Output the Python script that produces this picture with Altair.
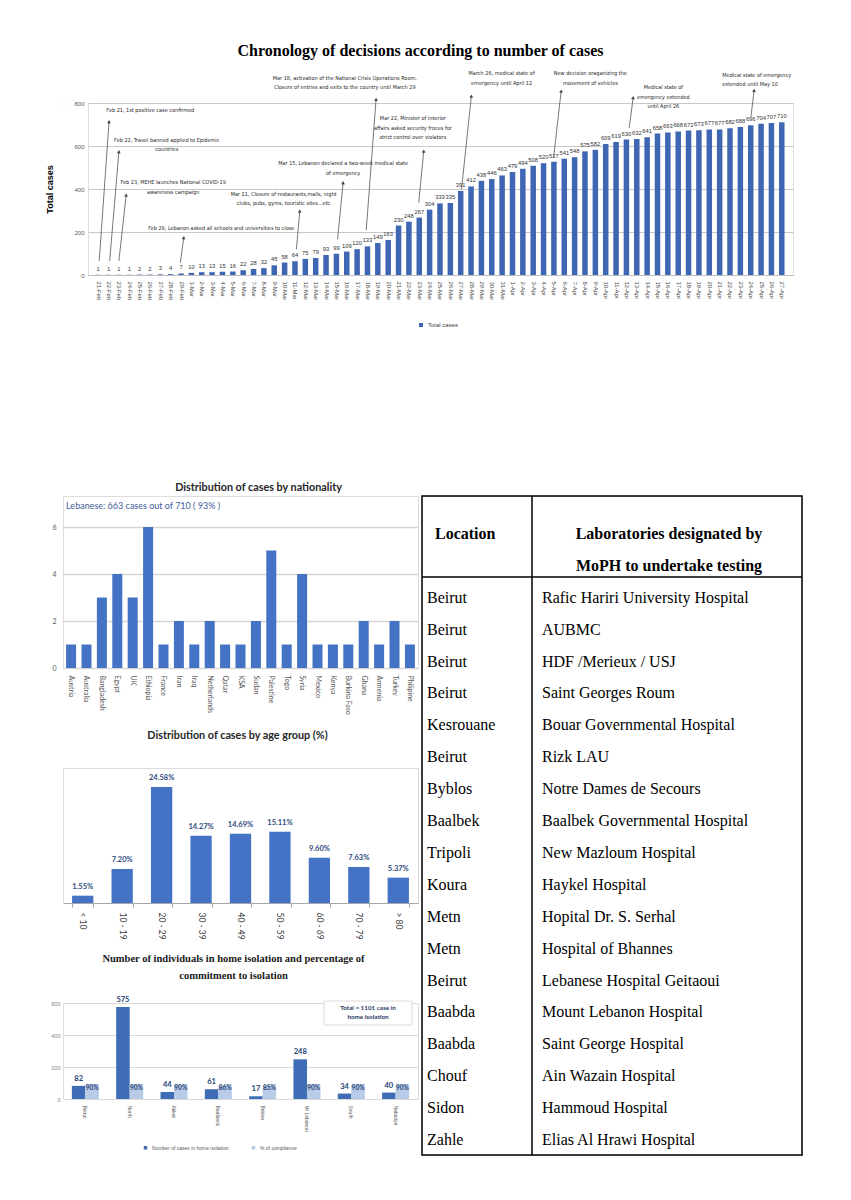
import math
import altair as alt
import pandas as pd

# ------------------------------------------------------------------ data
dates = ([f"{d}-Feb" for d in range(21, 30)] + [f"{d}-Mar" for d in range(1, 32)]
         + [f"{d}-Apr" for d in range(1, 28)])
total_cases = [1, 1, 1, 1, 2, 2, 3, 4, 7,
               10, 13, 13, 15, 16, 22, 28, 32, 45, 58, 64, 75, 79, 93, 99, 109, 120, 133, 149, 163,
               230, 248, 267, 304, 333, 335, 391, 412, 438, 446, 463,
               479, 494, 508, 520, 527, 541, 548, 575, 582, 609, 619, 630, 632, 641, 658, 663, 668,
               672, 673, 677, 677, 682, 688, 696, 704, 707, 710]

ann_text = [
    "Feb 21, 1st positive case confirmed",
    "Feb 22, Travel banned applied to Epidemic\ncountries",
    "Feb 23, MEHE launches National COVID-19\nawareness campaign",
    "Feb 29, Lebanon asked all schools and universities to close",
    "Mar 11, Closure of restaurants,malls, night\nclubs, pubs, gyms, touristic sites...etc",
    "Mar 15, Lebanon declared a two-week medical state\nof emergency",
    "Mar 18, activation of the National Crisis Operations Room.\nClosure of entries and exits to the country until March 29",
    "Mar 22, Minister of interior\naffairs asked security froces for\nstrict control over violators",
    "March 26, medical state of\nemergency until April 12",
    "New decision oraganizing the\nmovement of vehicles",
    "Medical state of\nemergency extended\nuntil April 26",
    "Medical state of emergency\nextended until May 10",
]
ann_x = [0.79, 6.62, 7.24, 11.88, 17.9, 23.65, 23.81, 30.38, 38.95, 47.52, 54.57, 60.26]
ann_y = [776.7, 637.2, 440.4, 226.5, 386.0, 528.8, 927.0, 738.0, 947.4, 947.4, 882.3, 940.9]
ann_align = ["left", "center", "center", "center", "center", "center", "center", "center",
             "center", "center", "center", "left"]
arr_x1 = [0.10, 1.11, 2.00, 7.93, 19.14, 23.11, 25.88, 30.95, 35.08, 43.97, 51.27, 63.02]
arr_y1 = [65.1, 65.1, 65.1, 57.2, 119.5, 166.0, 207.9, 336.3, 398.6, 545.6, 685.1, 734.9]
arr_x2 = [1.05, 2.00, 2.70, 8.26, 19.46, 23.65, 26.83, 31.43, 36.03, 44.70, 51.65, 63.33]
arr_y2 = [713.0, 573.5, 372.1, 173.5, 297.7, 429.3, 817.2, 576.7, 832.5, 855.8, 824.6, 859.0]

countries = ["Austria", "Australia", "Bangladesh", "Egypt", "UK", "Ethiopia", "France", "Iran",
             "Iraq", "Netherlands", "Qatar", "KSA", "Sudan", "Palestine", "Togo", "Syria",
             "Mexico", "Kenya", "Burkina Faso", "Ghana", "Armenia", "Turkey", "Philipine"]
nat_cases = [1, 1, 3, 4, 3, 6, 1, 2, 1, 2, 1, 1, 2, 5, 1, 4, 1, 1, 1, 2, 1, 2, 1]
nat_note = "Lebanese: 663 cases out of 710 ( 93% )"

age_groups = ["< 10", "10 - 19", "20 - 29", "30 - 39", "40 - 49", "50 - 59", "60 - 69",
              "70 - 79", "> 80"]
age_pct = [1.55, 7.20, 24.58, 14.27, 14.69, 15.11, 9.60, 7.63, 5.37]

regions = ["Beirut", "North", "Akkar", "Baalbeck", "Bekaa", "Mt Lebanon", "South", "Nabatiye"]
iso_cases = [82, 575, 44, 61, 17, 248, 34, 40]
iso_compliance = [90, 90, 90, 86, 85, 90, 90, 90]
iso_series = ["Number of cases in home isolation", "% of compliance"]
iso_total_note = "Total = 1101 case in\nhome isolation"

tbl_header = ["Location", "Laboratories designated by", "MoPH to undertake testing"]
locations = ["Beirut", "Beirut", "Beirut", "Beirut", "Kesrouane", "Beirut", "Byblos", "Baalbek",
             "Tripoli", "Koura", "Metn", "Metn", "Beirut", "Baabda", "Baabda", "Chouf",
             "Sidon", "Zahle"]
labs = ["Rafic Hariri University Hospital", "AUBMC", "HDF /Merieux / USJ", "Saint Georges Roum",
        "Bouar Governmental Hospital", "Rizk LAU", "Notre Dames de Secours",
        "Baalbek Governmental Hospital", "New Mazloum Hospital", "Haykel Hospital",
        "Hopital Dr. S. Serhal", "Hospital of Bhannes", "Lebanese Hospital Geitaoui",
        "Mount Lebanon Hospital", "Saint George Hospital", "Ain Wazain Hospital",
        "Hammoud Hospital", "Elias Al Hrawi Hospital"]

# ------------------------------------------------------------------ styles
SANS = "Liberation Sans"
NARROW = "Liberation Sans Narrow, DejaVu Sans Condensed, Liberation Sans"
SERIF = "Liberation Serif"
CAL = "Lato"
BLUE_TOP = "#3F66B3"
BLUE = "#4472C4"
BLUE_ISO = "#3E6DB5"
LIGHT_ISO = "#B8CCE8"

# ------------------------------------------------------------------ top chart
TOP_W, TOP_H = 705, 172
X_DOM = [-0.5, 66.6]
PX_DAY = TOP_W / (X_DOM[1] - X_DOM[0])
PX_UNIT = TOP_H / 800

top_df = pd.DataFrame({"i": list(range(len(dates))), "date": dates, "cases": total_cases,
                       "series": "Total cases"})
label_expr = "[" + ",".join(f"'{d}'" for d in dates) + "][datum.value]"

x_top = alt.X("i:Q", scale=alt.Scale(domain=X_DOM, nice=False, zero=False),
              axis=alt.Axis(values=list(range(len(dates))), labelExpr=label_expr, labelAngle=90,
                            labelFontSize=5.9, labelColor="#404040", labelFont=SANS,
                            ticks=False, grid=False, domainColor="#bfbfbf", labelPadding=6,
                            title=None, labelOverlap=False, labelBound=False))
y_top = alt.Y("cases:Q", scale=alt.Scale(domain=[0, 800], nice=False),
              axis=alt.Axis(values=[0, 200, 400, 600, 800], gridColor="#c8c8c8", domain=False,
                            ticks=False, labelFontSize=6, labelColor="#595959", labelPadding=4,
                            title="Total cases", titleFontSize=9, titleFont=SANS,
                            titleFontWeight="bold", titlePadding=19))

top_bars = alt.Chart(top_df).mark_bar(size=5.5).encode(
    x=x_top, y=y_top,
    color=alt.Color("series:N", scale=alt.Scale(domain=["Total cases"], range=[BLUE_TOP]),
                    legend=alt.Legend(orient="none", legendX=330, legendY=219, title=None,
                                      labelFontSize=6, labelColor="#404040", symbolType="square",
                                      symbolSize=16, symbolStrokeWidth=0, labelFont=SANS)))
top_vals = alt.Chart(top_df).mark_text(dy=-3, baseline="bottom", fontSize=5.8, color="#333333",
                                       font=SANS).encode(x=x_top, y=y_top, text="cases:Q")

arr_df = pd.DataFrame({"i": arr_x1, "cases": arr_y1, "i2": arr_x2, "cases2": arr_y2})
head_df = pd.DataFrame({"i": arr_x2, "cases": arr_y2})
head_df["ang"] = [
    math.degrees(math.atan2((b - a) * PX_DAY, (d - c) * PX_UNIT)) % 360
    for a, b, c, d in zip(arr_x1, arr_x2, arr_y1, arr_y2)]
arrows = alt.Chart(arr_df).mark_rule(color="#555555", strokeWidth=0.8).encode(
    x=x_top, x2="i2:Q", y=y_top, y2="cases2:Q")
heads = alt.Chart(head_df).mark_point(shape="triangle-up", filled=True, size=14,
                                      color="#444444", opacity=1).encode(
    x=x_top, y=y_top, angle=alt.Angle("ang:Q", scale=None))

ann_df = pd.DataFrame({"i": ann_x, "cases": ann_y, "txt": ann_text, "al": ann_align})
ann_c = alt.Chart(ann_df).transform_filter(alt.datum.al == "center").mark_text(
    align="center", baseline="top", lineBreak="\n", lineHeight=9.3, fontSize=5.5,
    font=NARROW, color="#1f1f1f").encode(x=x_top, y=y_top, text="txt:N")
ann_l = alt.Chart(ann_df).transform_filter(alt.datum.al == "left").mark_text(
    align="left", baseline="top", lineBreak="\n", lineHeight=9.3, fontSize=5.5,
    font=NARROW, color="#1f1f1f").encode(x=x_top, y=y_top, text="txt:N")

top_chart = alt.layer(top_bars, top_vals, arrows, heads, ann_c, ann_l).properties(
    width=TOP_W, height=TOP_H,
    title=alt.TitleParams("Chronology of decisions according to number of cases", font=SERIF,
                          fontSize=16, fontWeight="bold", anchor="middle", dx=-20, offset=12,
                          frame="group", color="black"))

spacer = alt.Chart(pd.DataFrame({"k": [0]})).mark_point(opacity=0).encode(
    x=alt.X("k:Q", axis=None), y=alt.Y("k:Q", axis=None)).properties(width=1, height=1)

# ------------------------------------------------------------------ nationality chart
LEFT_W = 355
nat_df = pd.DataFrame({"country": countries, "n": nat_cases})
x_nat = alt.X("country:N", sort=countries,
              scale=alt.Scale(paddingInner=0.35, paddingOuter=0.2),
              axis=alt.Axis(labelAngle=90, labelFontSize=7, labelColor="#595959", labelFont=CAL,
                            ticks=False, domain=False, title=None, labelPadding=7))
y_nat = alt.Y("n:Q", scale=alt.Scale(domain=[0, 7.32], nice=False),
              axis=alt.Axis(values=[0, 1, 2, 3, 4, 5, 6], gridColor="#d6d6d6", gridWidth=1.5,
                            domain=False, ticks=False, labelColor="#595959", labelFontSize=7,
                            labelFont=CAL, labelPadding=7, title=None))
nat_bars = alt.Chart(nat_df).mark_bar(color=BLUE).encode(x=x_nat, y=y_nat)
nat_sub = alt.Chart(pd.DataFrame({"t": [nat_note]})).mark_text(
    align="left", baseline="middle", fontSize=9, font=CAL, color="#44609A").encode(
    x=alt.XDatum("Austria", bandPosition=0), y=alt.YDatum(6.89), text="t:N")
nat_chart = alt.layer(nat_bars, nat_sub).properties(
    width=LEFT_W, height=172,
    title=alt.TitleParams("Distribution of cases by nationality", font=CAL, fontSize=10.8,
                          fontWeight="bold", anchor="middle", dx=18, offset=3, frame="group",
                          color="#262626"))

# ------------------------------------------------------------------ age chart
age_df = pd.DataFrame({"group": age_groups, "pct": age_pct,
                       "lbl": [f"{v:.2f}%" for v in age_pct]})
x_age = alt.X("group:N", sort=age_groups,
              scale=alt.Scale(paddingInner=0.46, paddingOuter=0.23),
              axis=alt.Axis(labelAngle=90, labelFontSize=8.5, labelColor="#404040", labelFont=CAL,
                            domainColor="#a6a6a6", tickColor="#a6a6a6", tickSize=4,
                            tickBand="extent", title=None, labelPadding=5))
y_age = alt.Y("pct:Q", scale=alt.Scale(domain=[0, 28.6], nice=False), axis=None)
age_bars = alt.Chart(age_df).mark_bar(color=BLUE).encode(x=x_age, y=y_age)
age_lbl = alt.Chart(age_df).mark_text(dy=-5, baseline="bottom", fontSize=7.5, fontWeight="bold",
                                      font=CAL, color="#2E4A7D").encode(
    x=x_age, y=y_age, text="lbl:N")
age_chart = alt.layer(age_bars, age_lbl).properties(
    width=LEFT_W, height=135,
    title=alt.TitleParams("Distribution of cases by age group (%)", font=CAL, fontSize=10.8,
                          fontWeight="bold", anchor="middle", dx=-3, offset=27, frame="group",
                          color="#262626"))

# ------------------------------------------------------------------ isolation chart
iso_df = pd.DataFrame({
    "region": regions * 2,
    "kind": [iso_series[0]] * len(regions) + [iso_series[1]] * len(regions),
    "value": iso_cases + iso_compliance,
    "lbl": [str(v) for v in iso_cases] + [f"{v}%" for v in iso_compliance],
})
x_iso = alt.X("region:N", sort=regions, scale=alt.Scale(paddingInner=0.39, paddingOuter=0.2),
              axis=alt.Axis(labelAngle=90, labelFontSize=5, labelColor="#595959", labelFont=SANS,
                            ticks=False, domain=False, title=None, labelPadding=6))
xo_iso = alt.XOffset("kind:N", sort=iso_series)
y_iso = alt.Y("value:Q", scale=alt.Scale(domain=[0, 600], nice=False),
              axis=alt.Axis(values=[0, 200, 400, 600], gridColor="#d9d9d9", domain=False,
                            ticks=False, labelFontSize=5.5, labelColor="#7f7f7f",
                            labelPadding=3, title=None))
iso_bars = alt.Chart(iso_df).mark_bar().encode(
    x=x_iso, xOffset=xo_iso, y=y_iso,
    color=alt.Color("kind:N", sort=iso_series,
                    scale=alt.Scale(domain=iso_series, range=[BLUE_ISO, LIGHT_ISO]),
                    legend=alt.Legend(orient="none", direction="horizontal", legendX=80,
                                      legendY=142, title=None, labelFontSize=5,
                                      labelColor="#595959", symbolType="square", symbolSize=12,
                                      symbolStrokeWidth=0, columnPadding=22, labelFont=SANS)))
iso_cnt = alt.Chart(iso_df).transform_filter(alt.datum.kind == iso_series[0]).mark_text(
    dy=-3, baseline="bottom", fontSize=7.5, fontWeight="bold", font=CAL,
    color="#243F73").encode(x=x_iso, xOffset=xo_iso, y=y_iso, text="lbl:N")
iso_pct = alt.Chart(iso_df).transform_filter(alt.datum.kind == iso_series[1]).mark_text(
    dy=3, baseline="middle", fontSize=6.5, fontWeight="bold", font=CAL,
    color="#243F73").encode(x=x_iso, xOffset=xo_iso, y=y_iso, text="lbl:N")
box_df = pd.DataFrame({"t": [iso_total_note]})
iso_box = alt.Chart(box_df).mark_rect(fill="white", stroke="#d0d0d0", strokeWidth=0.8).encode(
    x=alt.value(261), x2=alt.value(349), y=alt.value(-2), y2=alt.value(22))
iso_box_t = alt.Chart(box_df).mark_text(
    align="center", baseline="top", lineBreak="\n", lineHeight=8.5, fontSize=6.3,
    fontWeight="bold", font=CAL, color="#1F3864").encode(
    x=alt.value(305), y=alt.value(2), text="t:N")
iso_chart = alt.layer(iso_bars, iso_cnt, iso_pct, iso_box, iso_box_t).properties(
    width=LEFT_W, height=96,
    title=alt.TitleParams(["Number of individuals in home isolation and percentage of",
                           "commitment to isolation"], font=SERIF, fontSize=10.5,
                          fontWeight="bold", anchor="middle", dx=-7, offset=15, frame="group",
                          lineHeight=17, color="#1a1a1a"))

# ------------------------------------------------------------------ laboratories table
TBL_W, TBL_H = 380, 659
y_tbl = alt.Scale(domain=[-2.19, 18.47], reverse=True, nice=False, zero=False)
tbl_df = pd.DataFrame({"row": list(range(1, len(locations) + 1)), "loc": locations, "lab": labs})
hdr_df = pd.DataFrame({"row": [-1, -1, 0], "h": tbl_header, "col": ["loc", "lab", "lab"]})
one = pd.DataFrame({"k": [0]})

t_loc = alt.Chart(tbl_df).mark_text(align="left", baseline="middle", font=SERIF, fontSize=16,
                                    color="black").encode(
    x=alt.value(5), y=alt.Y("row:Q", scale=y_tbl, axis=None), text="loc:N")
t_lab = alt.Chart(tbl_df).mark_text(align="left", baseline="middle", font=SERIF, fontSize=16,
                                    color="black").encode(
    x=alt.value(120), y=alt.Y("row:Q", scale=y_tbl, axis=None), text="lab:N")
h_loc = alt.Chart(hdr_df).transform_filter(alt.datum.col == "loc").mark_text(
    align="left", baseline="middle", font=SERIF, fontSize=16, fontWeight="bold",
    color="black").encode(x=alt.value(13), y=alt.Y("row:Q", scale=y_tbl, axis=None), text="h:N")
h_lab = alt.Chart(hdr_df).transform_filter(alt.datum.col == "lab").mark_text(
    align="center", baseline="middle", font=SERIF, fontSize=16, fontWeight="bold",
    color="black").encode(x=alt.value(247), y=alt.Y("row:Q", scale=y_tbl, axis=None), text="h:N")
border = alt.Chart(one).mark_rect(fill="transparent", stroke="black", strokeWidth=1.5).encode(
    x=alt.value(0), x2=alt.value(TBL_W), y=alt.value(0), y2=alt.value(TBL_H))
divider = alt.Chart(one).mark_rule(color="black", strokeWidth=1.5).encode(
    x=alt.value(110), y=alt.value(0), y2=alt.value(TBL_H))
hline = alt.Chart(one).mark_rule(color="black", strokeWidth=1.5).encode(
    x=alt.value(0), x2=alt.value(TBL_W), y=alt.value(81))
table_chart = alt.layer(border, divider, hline, h_loc, h_lab, t_loc, t_lab).properties(
    width=TBL_W, height=TBL_H)

# ------------------------------------------------------------------ layout
# (in a "flush" concat a nested concat counts as zero size, so spacing = origin offset)
top_row = alt.hconcat(spacer, top_chart, spacing=24, bounds="flush").resolve_scale(
    color="independent").resolve_legend(color="independent")
left_col = alt.vconcat(nat_chart, age_chart, iso_chart, spacing=100,
                       bounds="flush").resolve_scale(color="independent")
bottom = alt.hconcat(left_col, table_chart, spacing=359, bounds="flush").resolve_scale(
    color="independent").resolve_legend(color="independent")

chart = alt.vconcat(top_row, bottom, spacing=393, bounds="flush").resolve_scale(
    color="independent").resolve_legend(color="independent").configure_view(
    strokeWidth=0).configure(font=SANS, background="white").properties(
    padding={"left": 37, "top": 34, "right": 5, "bottom": 5})

chart.save("out.html", embed_options={"renderer": "svg", "actions": False})
